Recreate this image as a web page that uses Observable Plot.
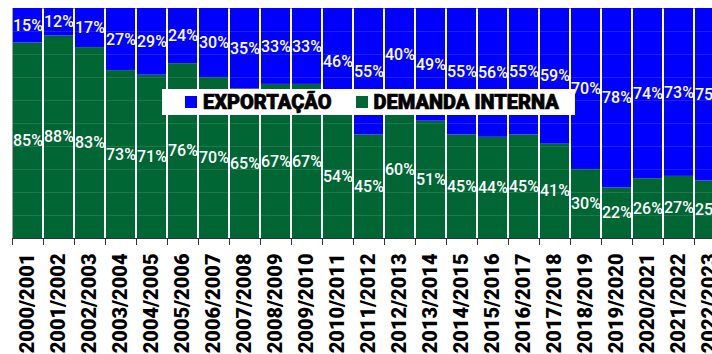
<!DOCTYPE html>
<html>
<head>
<meta charset="utf-8">
<script src="https://cdn.jsdelivr.net/npm/d3@7"></script>
<script src="https://cdn.jsdelivr.net/npm/@observablehq/plot@0.6"></script>
<style>
  html, body { margin: 0; padding: 0; background: #fff; overflow: hidden; width: 712px; height: 354px; }
  #wrap { position: relative; width: 712px; height: 354px; overflow: hidden; }
  #chart svg { max-width: none !important; display: block; }
  #legend { position: absolute; left: 162px; top: 89px; width: 413px; height: 26px; background: #fff;
    font-family: Roboto, "Liberation Sans", sans-serif; font-weight: 900; font-size: 20px; color: #000;
    -webkit-text-stroke: 0.7px #000;
    display: flex; align-items: center; letter-spacing: 0px; }
  #legend .sw { display: inline-block; width: 12px; height: 12px; margin-right: 6px; -webkit-text-stroke: 0; }
  #legend .item { display: flex; align-items: center; }
</style>
</head>
<body>
<div id="wrap">
  <div id="chart"></div>
  <div id="legend">
    <span class="item" style="margin-left:23px"><span class="sw" style="background:#0000ff"></span>EXPORTAÇÃO</span>
    <span class="item" style="margin-left:24px"><span class="sw" style="background:#006633"></span>DEMANDA INTERNA</span>
  </div>
</div>
<script>
const safras = ["2000/2001","2001/2002","2002/2003","2003/2004","2004/2005","2005/2006","2006/2007","2007/2008","2008/2009","2009/2010","2010/2011","2011/2012","2012/2013","2013/2014","2014/2015","2015/2016","2016/2017","2017/2018","2018/2019","2019/2020","2020/2021","2021/2022","2022/2023"];
const demandaInterna = [85,88,83,73,71,76,70,65,67,67,54,45,60,51,45,44,45,41,30,22,26,27,25];
const exportacao = [15,12,17,27,29,24,30,35,33,33,46,55,40,49,55,56,55,59,70,78,74,73,75];
const seriesNames = ["DEMANDA INTERNA", "EXPORTAÇÃO"];
const seriesColors = ["#006633", "#0000ff"];

const data = [];
safras.forEach((s, i) => data.push({safra: s, serie: seriesNames[0], valor: demandaInterna[i]}));
safras.forEach((s, i) => data.push({safra: s, serie: seriesNames[1], valor: exportacao[i]}));

const chart = Plot.plot({
  width: 730,
  height: 354,
  marginLeft: 12,
  marginRight: 5,
  marginTop: 8,
  marginBottom: 116,
  style: {background: "transparent", maxWidth: "none"},
  x: {domain: safras, paddingInner: 0.08, paddingOuter: 0.04, label: null},
  y: {domain: [0, 100], label: null, axis: null},
  color: {domain: seriesNames, range: seriesColors},
  marks: [
    Plot.frame({stroke: "#a0a0a0"}),
    Plot.barY(data, Plot.stackY({x: "safra", y: "valor", z: "serie", fill: "serie", order: seriesNames})),
    Plot.gridY(d3.range(10, 100, 10), {stroke: "#ffffff", strokeOpacity: 0.12}),
    Plot.text(data, Plot.stackY({x: "safra", y: "valor", z: "serie", order: seriesNames,
      text: d => d.valor + "%", fill: "#ffffff", fontSize: 16, fontWeight: 500,
      fontFamily: "Roboto, sans-serif"})),
    Plot.ruleY([0], {stroke: "#333"}),
    Plot.axisX({tickSize: 7, text: null, dx: -15.5, stroke: "#333"}),
    Plot.axisX({tickSize: 0, tickPadding: 15, tickRotate: -90, fontSize: 20, fontWeight: 900,
      fontFamily: "Roboto, sans-serif", fill: "#000", stroke: "#000", strokeWidth: 0.8, label: null})
  ]
});
document.getElementById("chart").appendChild(chart);
</script>
</body>
</html>
